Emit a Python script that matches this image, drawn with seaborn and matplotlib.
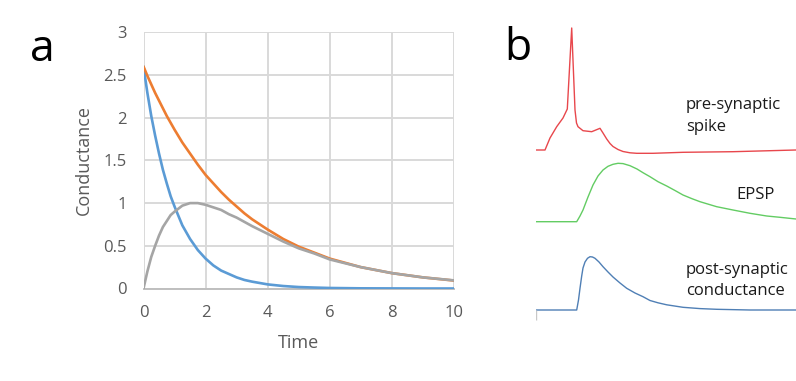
import numpy as np
import pandas as pd
import matplotlib
matplotlib.use("Agg")
import matplotlib.pyplot as plt
import seaborn as sns

# ---------------- data: panel a ----------------
time = [0, 0.125, 0.25, 0.375, 0.5, 0.625, 0.75, 0.875, 1, 1.25, 1.5, 1.75, 2, 2.25, 2.5, 2.75,
        3, 3.25, 3.5, 4, 4.5, 5, 5.5, 6, 7, 8, 9, 10]
fast_decay = [2.60, 2.29, 2.02, 1.79, 1.58, 1.39, 1.23, 1.08, 0.96, 0.74, 0.58, 0.45, 0.35, 0.27,
              0.21, 0.17, 0.13, 0.10, 0.08, 0.048, 0.029, 0.017, 0.011, 0.006, 0.002, 0.001,
              0.0, 0.0]
slow_decay = [2.60, 2.49, 2.39, 2.29, 2.20, 2.11, 2.02, 1.94, 1.86, 1.71, 1.58, 1.45, 1.33, 1.23,
              1.13, 1.04, 0.96, 0.88, 0.81, 0.69, 0.58, 0.49, 0.42, 0.35, 0.25, 0.18, 0.13, 0.093]
difference = [0.0, 0.20, 0.37, 0.50, 0.62, 0.72, 0.79, 0.86, 0.90, 0.97, 1.00, 1.00, 0.98, 0.95,
              0.92, 0.87, 0.83, 0.78, 0.73, 0.64, 0.55, 0.47, 0.41, 0.34, 0.25, 0.18, 0.13, 0.095]
x_ticks = [0, 2, 4, 6, 8, 10]
y_ticks = [0, 0.5, 1, 1.5, 2, 2.5, 3]
y_tick_labels = ["0", "0.5", "1", "1.5", "2", "2.5", "3"]

# ---------------- data: panel b (schematic traces, arbitrary units) ----------------
spike_t = [0, 9, 14, 20.7, 27, 31.3, 35.7, 39, 40.5, 42, 47, 55.7, 64, 67, 70.7, 74, 77, 82, 87,
           94, 100.7, 117, 147, 197, 260]
spike_v = [0, 0, 12, 23.3, 32, 41, 122, 40, 27, 23.3, 19.3, 18.3, 21.7, 17, 11, 6.5, 3.5, 0.5,
           -1.5, -2.8, -3.3, -3.3, -2.3, -1.7, 0]
epsp_t = [0, 40.7, 44, 47, 52, 57, 62, 67, 72, 77, 82, 87, 94, 101, 107, 114, 122, 130.7, 139,
          147, 156, 164, 180.7, 197, 214, 230.7, 244, 260]
epsp_v = [0, 0, 5.7, 11.7, 24.7, 36.7, 45.7, 51.7, 55.4, 57.4, 58.4, 58.1, 56, 52.7, 49, 45,
          40, 35.7, 31.2, 26.7, 23, 20, 15, 11.7, 8.4, 5.7, 4.4, 2.7]
cond_t = [0, 40.7, 42.5, 44, 45.7, 47, 49, 51.5, 54, 56.5, 59, 63, 67, 72, 77, 84, 90.7, 99, 107,
          114, 122, 130.7, 147, 164, 180.7, 214, 260]
cond_v = [0, 0, 10, 21.7, 34, 42, 48, 51.7, 53.3, 53, 51.7, 48, 43.3, 38, 33, 27, 21.7, 17, 13.3,
          9.5, 7.2, 5.2, 2.7, 1.4, 0.7, 0, 0]

W, H = 796, 381
sns.set_theme(style="white")
plt.rcParams["font.family"] = ["Open Sans", "DejaVu Sans"]

fig = plt.figure(figsize=(W / 100, H / 100), dpi=100)

# ---------------- panel a ----------------
ax = fig.add_axes([143.5 / W, 1 - 288.5 / H, (454 - 143.5) / W, (288.5 - 32.3) / H])
df = pd.DataFrame({
    "Time": time * 3,
    "Conductance": fast_decay + slow_decay + difference,
    "series": ["fast"] * len(time) + ["slow"] * len(time) + ["diff"] * len(time),
})
palette = {"fast": "#5B9BD5", "slow": "#ED7D31", "diff": "#A5A5A5"}
sns.lineplot(data=df, x="Time", y="Conductance", hue="series", palette=palette,
             linewidth=1.9, legend=False, ax=ax, sort=False, estimator=None, zorder=3)
ax.set_xlim(0, 10)
ax.set_ylim(0, 3)
ax.set_xticks(x_ticks)
ax.set_yticks(y_ticks)
ax.set_yticklabels(y_tick_labels)
ax.grid(True, color="#d9d9d9", linewidth=1.4)
ax.set_axisbelow(True)
for s in ["top", "right", "left"]:
    ax.spines[s].set_visible(False)
ax.spines["bottom"].set_color("#bfbfbf")
ax.spines["bottom"].set_linewidth(1.4)
ax.spines["bottom"].set_zorder(2)
ax.tick_params(axis="both", length=0, labelsize=12, labelcolor="#595959")
ax.tick_params(axis="x", pad=12)
ax.tick_params(axis="y", pad=12)
ax.set_xlabel("Time", fontsize=13, color="#595959")
ax.set_ylabel("Conductance", fontsize=13, color="#595959")
ax.xaxis.set_label_coords((298 - 143.5) / (454 - 143.5), -(334 - 288.5) / (288.5 - 32.3))
ax.yaxis.set_label_coords(-(143.5 - 93) / (454 - 143.5), (288.5 - 160) / (288.5 - 32.3))

# ---------------- panel b ----------------
bx = fig.add_axes([536 / W, 1 - 330 / H, 260 / W, 310 / H])
bx.set_xlim(0, 260)
bx.set_ylim(0, 310)
bx.axis("off")
traces = [
    (spike_t, spike_v, 180, "#e8474c"),
    (epsp_t, epsp_v, 108.3, "#63cc63"),
    (cond_t, cond_v, 20, "#4f7fb5"),
]
for t, v, off, col in traces:
    sns.lineplot(x=t, y=np.array(v) + off, color=col, linewidth=1.0, ax=bx,
                 sort=False, estimator=None)
bx.vlines(cond_t[0], 10, 20, color="#c8c8c8", linewidth=1.0)

txt_kw = dict(fontsize=12, color="#1a1a1a", va="center", ha="left")
fig.text(686 / W, 1 - 105 / H, "pre-synaptic", **txt_kw)
fig.text(686 / W, 1 - 127 / H, "spike", **txt_kw)
fig.text(736 / W, 1 - 195 / H, "EPSP", **txt_kw)
fig.text(686 / W, 1 - 270 / H, "post-synaptic", **txt_kw)
fig.text(686 / W, 1 - 291 / H, "conductance", **txt_kw)

# panel letters
fig.text(42 / W, 1 - 50 / H, "a", fontsize=32, color="black", ha="center", va="center")
fig.text(518 / W, 1 - 49 / H, "b", fontsize=32, color="black", ha="center", va="center")

fig.savefig("out.png", dpi=100)
